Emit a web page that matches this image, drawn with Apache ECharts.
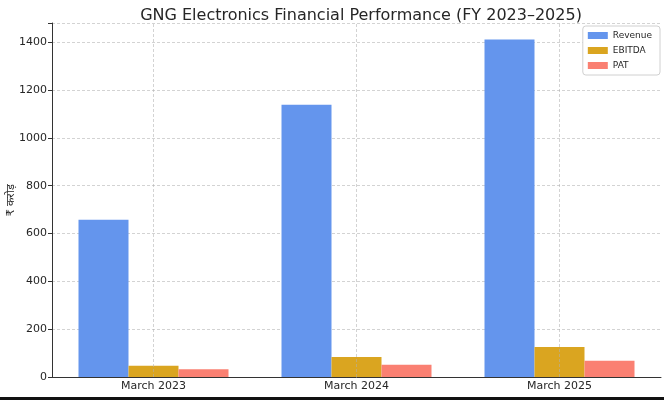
<!DOCTYPE html>
<html>
<head>
<meta charset="utf-8">
<script src="https://cdn.jsdelivr.net/npm/echarts@6/dist/echarts.min.js"></script>
<style>html,body{margin:0;padding:0;background:#fff}#c{width:664px;height:400px}</style>
</head>
<body>
<div id="c"></div>
<script>
const categories = ['March 2023', 'March 2024', 'March 2025'];
const revenue = [657, 1138, 1411];
const ebitda = [47, 84, 125];
const pat = [32, 51, 68];
const yTicks = [0, 200, 400, 600, 800, 1000, 1200, 1400];
const seriesNames = ['Revenue', 'EBITDA', 'PAT'];
const colors = ['#6495ED', '#DAA520', '#FA8072'];

const font = 'DejaVu Sans';
const chart = echarts.init(document.getElementById('c'), null, {renderer: 'canvas'});
const gridLine = {type: [3, 2], color: '#b0b0b0', width: 0.8, opacity: 0.7};

chart.setOption({
  animation: false,
  backgroundColor: '#fff',
  title: {
    text: 'GNG Electronics Financial Performance (FY 2023\u20132025)',
    left: 356, top: 3, textAlign: 'center',
    textStyle: {fontFamily: font, fontSize: 16, fontWeight: 'normal', color: '#262626'}
  },
  legend: {
    orient: 'vertical', right: 4, top: 26,
    itemWidth: 20, itemHeight: 7, itemGap: 6,
    padding: [5, 8, 5, 5],
    borderColor: '#d0d0d0', borderWidth: 1, borderRadius: 3,
    backgroundColor: '#fff',
    textStyle: {fontFamily: font, fontSize: 9, color: '#262626'},
    icon: 'rect',
    data: seriesNames
  },
  grid: {left: 52, right: 3, top: 23, bottom: 23, containLabel: false, outerBoundsMode: 'none'},
  xAxis: {
    type: 'category', data: categories,
    axisLine: {lineStyle: {color: '#333', width: 1}},
    axisTick: {alignWithLabel: true, length: 4, lineStyle: {color: '#333'}},
    axisLabel: {fontFamily: font, fontSize: 11, color: '#262626', margin: 4},
    splitLine: {show: false}
  },
  yAxis: {
    type: 'value', min: 0, max: 1480, interval: 200,
    name: '\u20b9 \u0915\u0930\u094b\u0921\u093c', nameLocation: 'middle', nameRotate: 90, nameGap: 35,
    nameMoveOverlap: false,
    nameTextStyle: {fontFamily: font, fontSize: 11, color: '#262626'},
    axisLine: {show: true, lineStyle: {color: '#333', width: 1}},
    axisTick: {show: true, length: 4, lineStyle: {color: '#333'}},
    axisLabel: {fontFamily: font, fontSize: 11, color: '#262626', margin: 5,
      formatter: v => yTicks.includes(v) ? String(v) : ''},
    splitLine: {show: true, lineStyle: gridLine}
  },
  series: [
    {name: seriesNames[0], type: 'bar', data: revenue, barWidth: 50, barGap: '0%', itemStyle: {color: colors[0]}},
    {name: seriesNames[1], type: 'bar', data: ebitda, barWidth: 50, barGap: '0%', itemStyle: {color: colors[1]}},
    {name: seriesNames[2], type: 'bar', data: pat, barWidth: 50, barGap: '0%', itemStyle: {color: colors[2]}},
    {name: 'vgrid', type: 'line', data: [], silent: true, z: 10,
     markLine: {silent: true, symbol: 'none', label: {show: false}, lineStyle: gridLine,
       data: categories.map(c => ({xAxis: c}))}}
  ],
  graphic: [
    {type: 'rect', left: 0, top: 397, shape: {width: 664, height: 3}, style: {fill: '#111'}}
  ]
});
</script>
</body>
</html>
